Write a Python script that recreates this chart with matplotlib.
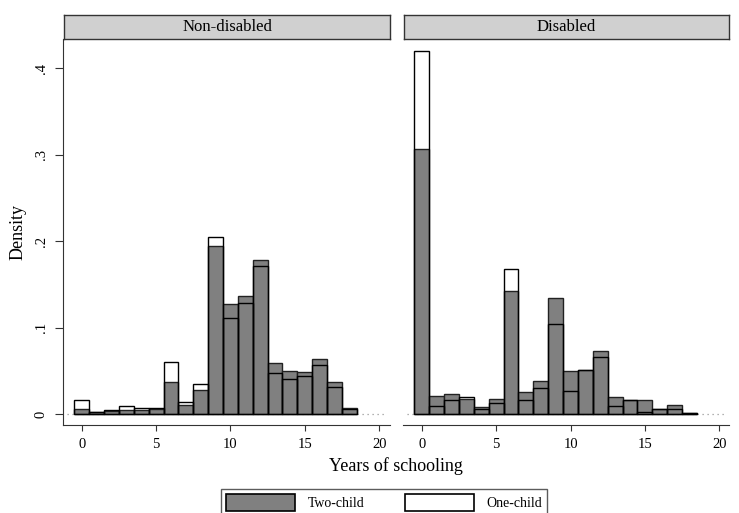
"""
Overlaid histograms of years of schooling, two-child vs one-child,
split by disability status (Stata-style by-graph).
"""
import matplotlib
matplotlib.use("Agg")
import matplotlib.pyplot as plt
from matplotlib.patches import Patch

plt.rcParams["font.family"] = ["Liberation Serif", "DejaVu Serif"]

# ── Data (density per year of schooling, bins centred on 0..18) ────────────
years = list(range(19))

nondis_two = [0.0062, 0.0020, 0.0035, 0.0046, 0.0050, 0.0058, 0.0370, 0.0108,
              0.0274, 0.1950, 0.1270, 0.1367, 0.1788, 0.0590, 0.0500, 0.0490,
              0.0633, 0.0370, 0.0070]
nondis_one = [0.0162, 0.0020, 0.0054, 0.0089, 0.0066, 0.0066, 0.0602, 0.0139,
              0.0351, 0.2050, 0.1110, 0.1280, 0.1718, 0.0480, 0.0405, 0.0436,
              0.0571, 0.0317, 0.0060]

dis_two = [0.3065, 0.0212, 0.0235, 0.0180, 0.0080, 0.0177, 0.1427, 0.0254,
           0.0385, 0.1346, 0.0504, 0.0515, 0.0730, 0.0200, 0.0165, 0.0165,
           0.0065, 0.0110, 0.0015]
dis_one = [0.4200, 0.0096, 0.0165, 0.0200, 0.0058, 0.0130, 0.1680, 0.0165,
           0.0304, 0.1040, 0.0273, 0.0515, 0.0658, 0.0100, 0.0165, 0.0027,
           0.0065, 0.0058, 0.0015]

panel_titles = ["Non-disabled", "Disabled"]
xticks = [0, 5, 10, 15, 20]
yticks = [0, 0.1, 0.2, 0.3, 0.4]
ytick_labels = ["0", ".1", ".2", ".3", ".4"]

GRAY = "#808080"
AXC = "#333333"
W, H = 739, 513

fig = plt.figure(figsize=(W / 100, H / 100), dpi=100, facecolor="white")


def px_axes(x0, y0, x1, y1):
    """Axes from pixel box (top-left origin)."""
    return fig.add_axes([x0 / W, (H - y1) / H, (x1 - x0) / W, (y1 - y0) / H])


panels = [
    (63, 390, (-1.26, 20.73), nondis_two, nondis_one),
    (403, 729, (-1.26, 20.65), dis_two, dis_one),
]

for i, (x0, x1, xlim, two, one) in enumerate(panels):
    ax = px_axes(x0, 39, x1, 425)

    # zero-density bins show as a dotted baseline
    ax.hlines(0, -1.0, 20.5, colors="#999999", linestyles=(0, (1, 3)),
              lw=0.9, zorder=0)
    ax.bar(years, two, width=1.0, color=GRAY, edgecolor="#222222",
           linewidth=1.0, zorder=2)
    ax.bar(years, one, width=1.0, fill=False, edgecolor="black",
           linewidth=1.0, zorder=3)

    ax.set_xlim(*xlim)
    ax.set_ylim(-0.0125, 0.4338)
    for s in ["top", "right"]:
        ax.spines[s].set_visible(False)
    ax.spines["bottom"].set_color(AXC)
    ax.spines["left"].set_color(AXC)
    ax.set_xticks(xticks)
    ax.tick_params(axis="x", length=4, labelsize=10.5, color=AXC, pad=5)

    if i == 0:
        ax.set_yticks(yticks)
        ax.set_yticklabels(ytick_labels, rotation=90, va="center")
        ax.tick_params(axis="y", length=6, labelsize=10.5, color=AXC, pad=5)
        ax.set_ylabel("Density", fontsize=13, labelpad=6)
    else:
        ax.spines["left"].set_visible(False)
        ax.set_yticks([])

    # strip header
    sx = fig.add_axes([(x0 + 1) / W, (H - 39) / H, (x1 - x0 - 1) / W, 24 / H])
    sx.set_xticks([])
    sx.set_yticks([])
    sx.set_facecolor("#d0d0d0")
    for s in sx.spines.values():
        s.set_color(AXC)
        s.set_linewidth(1.0)
    sx.text(0.5, 0.5, panel_titles[i], ha="center", va="center", fontsize=12)

fig.text(396 / W, 1 - 466 / H, "Years of schooling", ha="center", va="center",
         fontsize=13)

handles = [
    Patch(facecolor=GRAY, edgecolor="black", linewidth=1.2, label="Two-child"),
    Patch(facecolor="white", edgecolor="black", linewidth=1.2, label="One-child"),
]
leg = fig.legend(handles=handles, ncol=2, loc="upper center",
                 bbox_to_anchor=(384 / W, 1 - 482 / H), frameon=True,
                 fancybox=False, edgecolor=AXC, fontsize=10,
                 handlelength=5.0, handleheight=1.5, columnspacing=2.9,
                 handletextpad=0.9, borderpad=0.35)
leg.get_frame().set_linewidth(1.0)

fig.savefig("out.png", dpi=100, facecolor="white")
